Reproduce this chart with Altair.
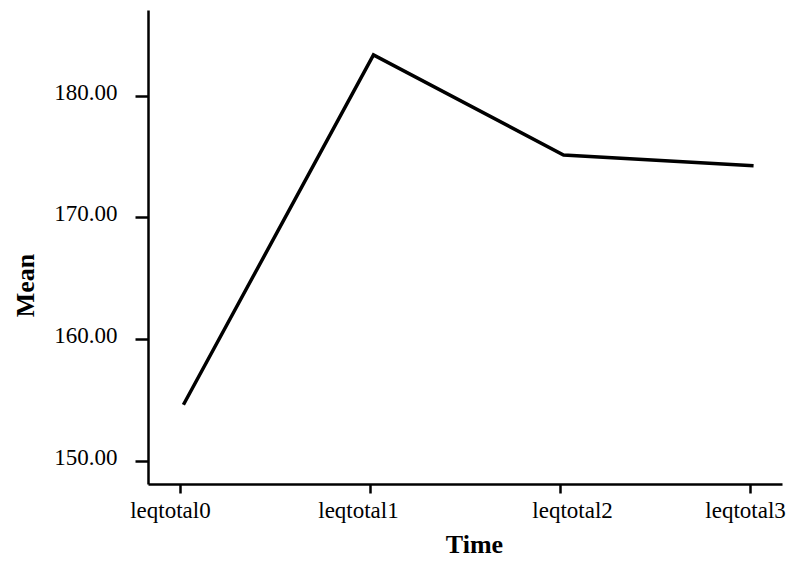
import altair as alt
import pandas as pd

times = ["leqtotal0", "leqtotal1", "leqtotal2", "leqtotal3"]
means = [154.6, 183.35, 175.13, 174.25]
y_ticks = [150, 160, 170, 180]

df = pd.DataFrame({"Time": times, "Mean": means})

FONT = "Liberation Serif"

label_shift = {
    "condition": [
        {"test": "datum.value == 'leqtotal0'", "value": -10},
        {"test": "datum.value == 'leqtotal1'", "value": -12},
        {"test": "datum.value == 'leqtotal2'", "value": 12},
        {"test": "datum.value == 'leqtotal3'", "value": -5},
    ],
    "value": 0,
}

chart = alt.Chart(df).mark_line(color="black", strokeWidth=3.5, xOffset=3.5).encode(
    x=alt.X(
        "Time:N",
        sort=times,
        scale=alt.Scale(type="point", padding=0.168),
        axis=alt.Axis(
            title="Time",
            labelAngle=0,
            labelFont=FONT,
            labelFontSize=23,
            labelColor="black",
            labelBaseline="alphabetic",
            labelPadding=24,
            labelOffset=label_shift,
            tickSize=9,
            tickWidth=2.5,
            tickColor="black",
            domainColor="black",
            domainWidth=2.5,
            titleFont=FONT,
            titleFontSize=26,
            titleFontWeight="bold",
            titleColor="black",
            titleX=326,
            titleY=68,
            titleAlign="center",
            titleBaseline="alphabetic",
            grid=False,
        ),
    ),
    y=alt.Y(
        "Mean:Q",
        scale=alt.Scale(domain=[148.09, 187.04], nice=False, zero=False),
        axis=alt.Axis(
            title="Mean",
            values=y_ticks,
            format=".2f",
            labelFont=FONT,
            labelFontSize=23,
            labelColor="black",
            labelBaseline="alphabetic",
            labelOffset=3.5,
            labelPadding=18,
            tickSize=13,
            tickWidth=2.5,
            tickColor="black",
            domainColor="black",
            domainWidth=2.5,
            titleFont=FONT,
            titleFontSize=26,
            titleFontWeight="bold",
            titleColor="black",
            titleAngle=270,
            titleX=-115,
            titleY=275,
            titleAlign="center",
            titleBaseline="alphabetic",
            grid=False,
        ),
    ),
).properties(
    width=634,
    height=474,
    autosize=alt.AutoSizeParams(type="none"),
    padding={"left": 140, "top": 2, "right": 5, "bottom": 74},
).configure(background="white").configure_view(stroke=None)

chart.save("out.html", embed_options={"renderer": "svg", "actions": False})
